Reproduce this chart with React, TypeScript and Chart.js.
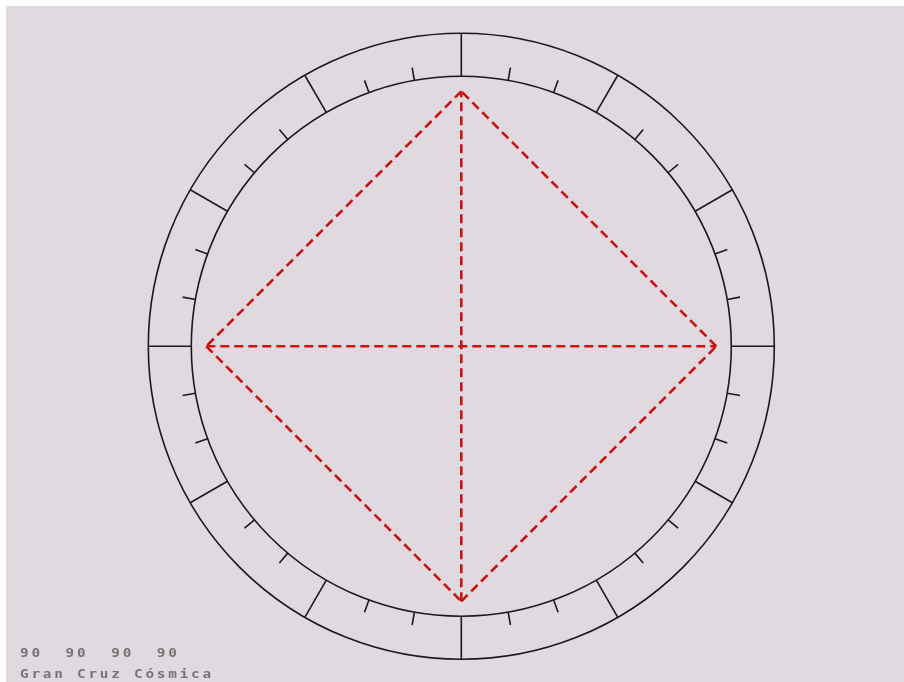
import React, { useEffect, useRef } from "react";
import { Chart, registerables } from "chart.js";

Chart.register(...registerables);

// Planet longitudes (degrees) forming the Grand Cross
const planetLongitudes = [0, 90, 180, 270];
// Aspects between planets (indices into planetLongitudes)
const aspectPairs: [number, number][] = [
  [0, 1],
  [1, 2],
  [2, 3],
  [3, 0],
  [0, 2],
  [1, 3],
];
// Aspect angle labels shown at the bottom
const aspectLabels = ["90", "90", "90", "90"];
const chartTitle = "Gran Cruz Cósmica";

// Wheel geometry (in chart units)
const outerRadius = 313;
const innerRadius = 270;
const planetRadius = 255;
const minorTickLength = 13;
const majorTickDegrees = [0, 30, 60, 90, 120, 150, 180, 210, 240, 270, 300, 330];
const minorTickDegrees = [
  10, 20, 40, 50, 70, 80, 100, 110, 130, 140, 160, 170,
  190, 200, 220, 230, 250, 260, 280, 290, 310, 320, 340, 350,
];

const toXY = (deg: number, r: number) => {
  const a = (deg * Math.PI) / 180;
  // 0° at the left (ascendant), counter-clockwise
  return { x: -r * Math.cos(a), y: -r * Math.sin(a) };
};

const wheelPlugin = {
  id: "wheel",
  beforeDatasetsDraw(chart: any) {
    const { ctx, scales } = chart;
    const xs = scales.x;
    const ys = scales.y;
    const cx = xs.getPixelForValue(0);
    const cy = ys.getPixelForValue(0);
    const px = (r: number) => xs.getPixelForValue(r) - cx;
    ctx.save();
    ctx.strokeStyle = "#1a1a1a";
    ctx.lineWidth = 1.6;
    [outerRadius, innerRadius].forEach((r) => {
      ctx.beginPath();
      ctx.arc(cx, cy, px(r), 0, Math.PI * 2);
      ctx.stroke();
    });
    const seg = (deg: number, r1: number, r2: number) => {
      const p1 = toXY(deg, r1);
      const p2 = toXY(deg, r2);
      ctx.beginPath();
      ctx.moveTo(xs.getPixelForValue(p1.x), ys.getPixelForValue(p1.y));
      ctx.lineTo(xs.getPixelForValue(p2.x), ys.getPixelForValue(p2.y));
      ctx.stroke();
    };
    majorTickDegrees.forEach((d) => seg(d, innerRadius, outerRadius));
    minorTickDegrees.forEach((d) => seg(d, innerRadius, innerRadius + minorTickLength));
    ctx.restore();
  },
  afterDraw(chart: any) {
    const { ctx } = chart;
    ctx.save();
    ctx.fillStyle = "#757575";
    ctx.font = "bold 11.5px 'DejaVu Sans Mono'";
    try {
      (ctx as any).letterSpacing = "2.2px";
    } catch (e) {}
    ctx.textBaseline = "alphabetic";
    const sx = 1.25;
    ctx.scale(sx, 1);
    ctx.fillText(aspectLabels.join("  "), 14 / sx, 651);
    ctx.fillText(chartTitle, 14 / sx, 672);
    ctx.restore();
  },
};

export default function App() {
  const ref = useRef<HTMLCanvasElement>(null);
  useEffect(() => {
    if (!ref.current) return;
    const datasets = aspectPairs.map(([a, b]) => ({
      data: [toXY(planetLongitudes[a], planetRadius), toXY(planetLongitudes[b], planetRadius)],
      showLine: true,
      borderColor: "#cc1111",
      borderWidth: 2.6,
      borderDash: [9, 5],
      pointRadius: 0,
      fill: false,
    }));
    const chart = new Chart(ref.current, {
      type: "scatter",
      data: { datasets },
      options: {
        animation: false,
        responsive: false,
        layout: { padding: 0 },
        plugins: { legend: { display: false }, tooltip: { enabled: false }, title: { display: false } },
        scales: {
          x: { type: "linear", min: -455.3, max: 442.7, display: false },
          y: { type: "linear", min: -335.7, max: 340.3, display: false },
        },
      },
      plugins: [wheelPlugin],
    });
    return () => chart.destroy();
  }, []);
  return (
    <div
      style={{
        position: "absolute",
        left: 6,
        top: 6,
        width: 898,
        height: 676,
        background: "#e0d9e0",
      }}
    >
      <canvas ref={ref} width={898} height={676} style={{ display: "block" }} />
    </div>
  );
}
